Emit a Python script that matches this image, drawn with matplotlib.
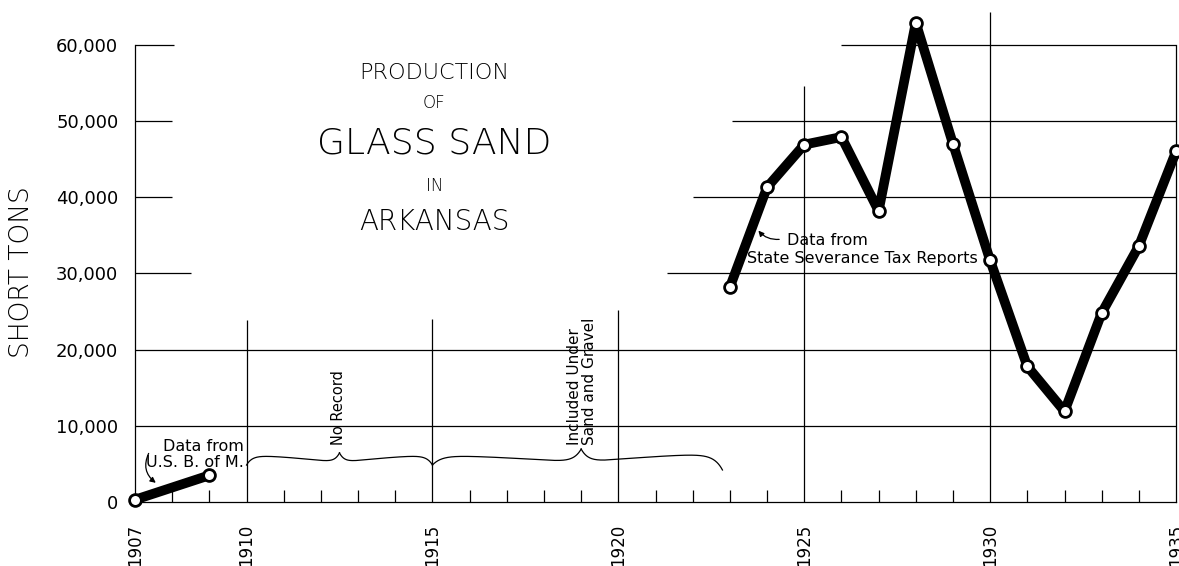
import matplotlib
matplotlib.use('Agg')
import numpy as np
import matplotlib.pyplot as plt

# production of glass sand in Arkansas, short tons
usbm_years = [1907, 1909]
usbm_tons = [300, 3500]
tax_years = [1923, 1924, 1925, 1926, 1927, 1928, 1929, 1930, 1931, 1932, 1933, 1934, 1935]
tax_tons = [28200, 41300, 46900, 47900, 38200, 62900, 47000, 31700, 17800, 11900, 24800, 33600, 46000]

label_years = [1907, 1910, 1915, 1920, 1925, 1930, 1935]
y_ticks = [0, 10000, 20000, 30000, 40000, 50000, 60000]
y_labels = ['0', '10,000', '20,000', '30,000', '40,000', '50,000', '60,000']

# grid pieces as drawn on the original sheet (year spans / value spans)
h_grid = {10000: [(1907, 1935)],
          20000: [(1907, 1935)],
          30000: [(1907, 1908.5), (1921.3, 1935)],
          40000: [(1907, 1908.0), (1922.0, 1935)],
          50000: [(1907, 1908.0), (1923.05, 1935)],
          60000: [(1907, 1908.05), (1926.0, 1935)]}
v_grid = {1910: 23900, 1915: 24000, 1920: 25200, 1925: 54600, 1930: 64300}

LW = 0.9


def half_brace(ax, x_end, x_tip, y_end, y_hump, y_base, y_tip):
    u = np.linspace(0, 1, 300)
    rise = (y_hump - y_end) * (1 - np.exp(-u / 0.06))
    fall = (y_hump - y_base) * u ** 1.6
    tip = (y_tip - y_base) * np.exp(-(1 - u) / 0.05)
    x = x_end + (x_tip - x_end) * u
    ax.plot(x, y_end + rise - fall + tip, color='black', lw=LW)


fig = plt.figure(figsize=(11.79, 5.66), dpi=100)
ax = fig.add_axes([0.1145, 0.1131, 0.8830, 0.8869])
ax.set_xlim(1907, 1935)
ax.set_ylim(0, 65880)

for yv, spans in h_grid.items():
    for a, b in spans:
        ax.hlines(yv, a, b, color='black', lw=LW)
for xv, top in v_grid.items():
    ax.vlines(xv, 0, top, color='black', lw=LW)

# braces over the years with no separate figures
half_brace(ax, 1910, 1912.5, 4850, 6100, 5150, 6450)
half_brace(ax, 1915, 1912.5, 4850, 6100, 5150, 6450)
half_brace(ax, 1915, 1919.0, 4850, 6100, 5150, 6950)
half_brace(ax, 1922.8, 1919.0, 4200, 6300, 5150, 6950)

for yrs, tons in [(usbm_years, usbm_tons), (tax_years, tax_tons)]:
    ax.plot(yrs, tons, color='black', lw=7, solid_capstyle='round', zorder=4, clip_on=False)
    ax.plot(yrs, tons, 'o', ms=8.5, mfc='white', mec='black', mew=2, zorder=5, clip_on=False)

ax.spines['top'].set_visible(False)
ax.spines['left'].set_bounds(0, 60000)
ax.spines['right'].set_bounds(0, 60000)
for s in ['left', 'right', 'bottom']:
    ax.spines[s].set_linewidth(LW)

ax.set_xticks(label_years)
ax.set_xticklabels([str(y) for y in label_years], rotation=90, fontsize=12)
ax.set_xticks([y for y in range(1908, 1935) if y not in label_years], minor=True)
ax.tick_params(axis='x', which='major', length=0, pad=16)
ax.tick_params(axis='x', which='minor', direction='in', length=8.5, width=LW)
ax.set_yticks(y_ticks)
ax.set_yticklabels(y_labels, fontsize=13)
ax.tick_params(axis='y', length=0, pad=12)

fig.text(22 / 1179, 1 - 272 / 566, 'SHORT TONS', rotation=90, ha='center', va='center',
         fontsize=19, fontweight='light')

# title block
ax.text(1915.05, 56300, 'PRODUCTION', ha='center', va='center', fontsize=16, fontweight='light')
ax.text(1915.05, 52360, 'OF', ha='center', va='center', fontsize=12, fontweight='light')
ax.text(1915.05, 47100, 'GLASS SAND', ha='center', va='center', fontsize=26, fontweight='light')
ax.text(1915.05, 41470, 'IN', ha='center', va='center', fontsize=12, fontweight='light')
ax.text(1915.05, 36750, 'ARKANSAS', ha='center', va='center', fontsize=20, fontweight='light')

# notes
ax.text(1912.46, 7480, 'No Record', rotation=90, ha='center', va='bottom', fontsize=10.5)
ax.text(1919.02, 7480, 'Included Under\nSand and Gravel', rotation=90, ha='center', va='bottom',
        multialignment='left', fontsize=11, linespacing=1.0)

ax.text(1908.62, 6200, 'Data from\nU.S. B. of M.', ha='center', va='center', fontsize=11.5,
        multialignment='right', linespacing=1.1)
ax.annotate('', xy=(1907.62, 2300), xytext=(1907.4, 6700),
            arrowprops=dict(arrowstyle='-|>', connectionstyle='arc3,rad=0.45', lw=0.9,
                            color='black', mutation_scale=8))

ax.text(1924.53, 34380, 'Data from', ha='left', va='center', fontsize=11.5)
ax.text(1926.57, 32020, 'State Severance Tax Reports', ha='center', va='center', fontsize=11.5)
ax.annotate('', xy=(1923.72, 35900), xytext=(1924.4, 34500),
            arrowprops=dict(arrowstyle='-|>', connectionstyle='arc3,rad=-0.3', lw=0.9,
                            color='black', mutation_scale=8))

plt.savefig('out.png', dpi=100, facecolor='white')
